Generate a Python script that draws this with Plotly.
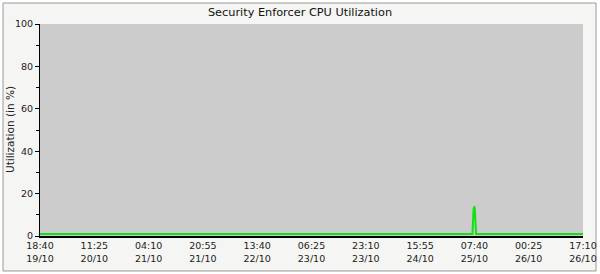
import plotly.graph_objects as go

# hours since 19/10 18:40 (tick spacing 16.75 h)
hours = [0.0, 20.0, 40.0, 60.0, 80.0, 100.0, 120.0, 133.4, 133.75, 134.0, 134.2, 134.5, 150.0, 167.5]
cpu = [1.0, 1.0, 1.0, 1.0, 1.0, 1.0, 1.0, 1.0, 12.5, 14.0, 11.0, 1.0, 1.0, 1.0]

tick_labels = ["18:40<br>19/10", "11:25<br>20/10", "04:10<br>21/10", "20:55<br>21/10",
               "13:40<br>22/10", "06:25<br>23/10", "23:10<br>23/10", "15:55<br>24/10",
               "07:40<br>25/10", "00:25<br>26/10", "17:10<br>26/10"]
tick_hours = [i * 16.75 for i in range(len(tick_labels))]

fig = go.Figure()
fig.add_trace(go.Scatter(x=hours, y=cpu, mode="lines",
                         line=dict(color="#11e011", width=2), hoverinfo="skip"))

fig.update_layout(
    width=600, height=274,
    margin=dict(l=40, r=17, t=24, b=38, autoexpand=False),
    paper_bgcolor="#ffffff",
    plot_bgcolor="#cccccc",
    showlegend=False,
    font=dict(family="DejaVu Sans", size=9.5, color="#222222"),
    title=dict(text="Security Enforcer CPU Utilization", x=0.5, xanchor="center",
               y=0.957, yanchor="middle", font=dict(size=11.3, color="#111111")),
    shapes=[
        dict(type="rect", xref="paper", yref="paper", x0=-0.0681, x1=1.024, y0=-0.165, y1=1.099,
             fillcolor="#f5f5f3", line=dict(color="#9a9a9a", width=1), layer="below"),
        dict(type="rect", xref="paper", yref="paper", x0=0, x1=1, y0=0, y1=1,
             fillcolor="#cccccc", line=dict(width=0), layer="below"),
    ],
    annotations=[
        dict(text="Utilization (in %)", xref="paper", yref="paper", x=-0.0552, y=0.5,
             xanchor="center", yanchor="middle", textangle=-90, showarrow=False,
             font=dict(size=10.5, color="#222222")),
    ],
)
fig.update_xaxes(range=[0, 167.5], tickvals=tick_hours, ticktext=tick_labels,
                 showgrid=False, zeroline=False, showline=True, linecolor="#000000",
                 linewidth=1.5, ticks="", tickfont=dict(size=9.5), automargin=False,
                 ticklabelstandoff=0)
fig.update_yaxes(range=[0, 100], tickvals=[0, 20, 40, 60, 80, 100], showgrid=False,
                 zeroline=False, showline=True, linecolor="#000000", linewidth=1,
                 ticks="outside", ticklen=4, tickcolor="#000000", automargin=False,
                 minor=dict(tickvals=[10, 30, 50, 70, 90], ticks="outside", ticklen=3,
                            tickcolor="#000000", showgrid=False),
                 tickfont=dict(size=9.5))

fig.write_html("out.html")
